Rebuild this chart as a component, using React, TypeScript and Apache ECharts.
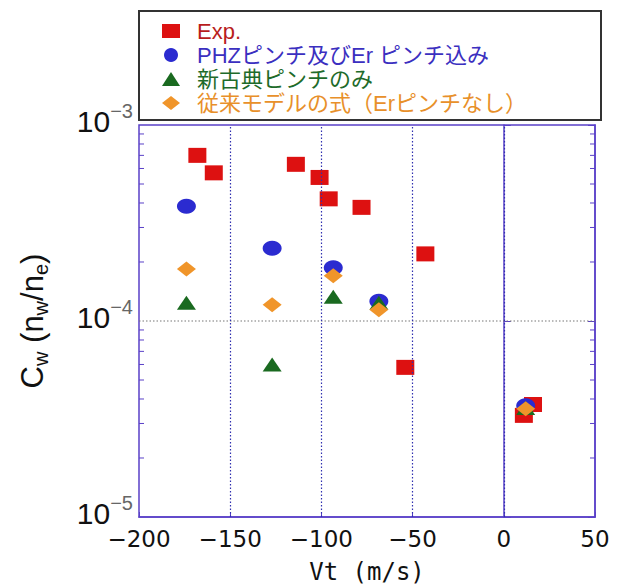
import React, { useEffect, useRef } from 'react';
import * as echarts from 'echarts';

// ---- data ----
const seriesNames = ['Exp.', 'PHZピンチ及びEr ピンチ込み', '新古典ピンチのみ', '従来モデルの式（Erピンチなし）'];

const expVt = [-168, -159, -114, -101, -96, -78, -43, -54, 16, 11];
const expCw = [7.0e-4, 5.7e-4, 6.3e-4, 5.4e-4, 4.2e-4, 3.8e-4, 2.2e-4, 5.8e-5, 3.75e-5, 3.3e-5];

const modelVt = [-174, -127, -93.5, -68.5, 12];
const phzCw = [3.85e-4, 2.35e-4, 1.87e-4, 1.26e-4, 3.7e-5];
const neoCw = [1.24e-4, 6.0e-5, 1.33e-4, 1.24e-4, 3.6e-5];
const convCw = [1.84e-4, 1.21e-4, 1.70e-4, 1.14e-4, 3.57e-5];

const xMin = -200;
const xMax = 50;
const xInterval = 50;
const yMin = 1e-5;
const yMax = 1e-3;
const xGridLines = [-150, -100, -50, 0];
const yGridLines = [1e-4];
const minorTicks = [2e-5, 3e-5, 4e-5, 5e-5, 6e-5, 7e-5, 8e-5, 9e-5, 2e-4, 3e-4, 4e-4, 5e-4, 6e-4, 7e-4, 8e-4, 9e-4];

const xAxisTitle = 'Vt (m/s)';

// ---- styles ----
const frameColor = '#5a40c8';
const colors = ['#dd1111', '#2b2bd0', '#1a6a20', '#f0952a'];
const legendTextColors = ['#b81c1c', '#3b2fc0', '#1e6b2a', '#e8902a'];

function buildOption() {
  const pair = (xs: number[], ys: number[]) => xs.map((x, i) => [x, ys[i]]);
  return {
    animation: false,
    grid: {
      left: 139,
      top: 125,
      right: 33,
      bottom: 69,
      outerBoundsMode: 'none',
      containLabel: false,
      show: true,
      borderColor: frameColor,
      borderWidth: 1.5,
      backgroundColor: 'transparent',
    },
    graphic: [
      {
        type: 'rect',
        z: 0,
        shape: { x: 139, y: 11, width: 462, height: 109 },
        style: { fill: '#fff', stroke: '#333', lineWidth: 2 },
      },
      {
        type: 'text',
        x: 34,
        y: 321,
        rotation: Math.PI / 2,
        style: {
          text: '{c|C}{s|w}{c| (n}{s|w}{c|/n}{s|e}{c|)}',
          align: 'center',
          verticalAlign: 'middle',
          fill: '#111',
          rich: {
            c: { fontSize: 31, fontFamily: 'Liberation Sans', fill: '#111', lineHeight: 34, verticalAlign: 'top' },
            s: { fontSize: 20, fontFamily: 'Liberation Sans', fill: '#111', lineHeight: 20, verticalAlign: 'bottom', padding: [12, 0, 0, 0] },
          },
        },
      },
    ],
    legend: {
      orient: 'vertical',
      left: 162,
      top: 19,
      padding: 0,
      itemWidth: 18,
      itemHeight: 14,
      itemGap: 0,
      textStyle: {
        fontSize: 22,
        lineHeight: 24,
        fontFamily: '"Liberation Sans", "Noto Sans CJK JP", sans-serif',
        padding: [0, 0, 0, 12],
      },
      data: [
        { name: seriesNames[0], icon: 'rect', textStyle: { color: legendTextColors[0] } },
        { name: seriesNames[1], icon: 'circle', textStyle: { color: legendTextColors[1] } },
        { name: seriesNames[2], icon: 'triangle', textStyle: { color: legendTextColors[2] } },
        { name: seriesNames[3], icon: 'diamond', textStyle: { color: legendTextColors[3] } },
      ],
    },
    xAxis: {
      type: 'value',
      min: xMin,
      max: xMax,
      interval: xInterval,
      name: xAxisTitle,
      nameLocation: 'middle',
      nameGap: 43,
      nameTextStyle: { fontSize: 24, fontFamily: 'DejaVu Sans Mono', color: '#111' },
      axisLine: { show: true, lineStyle: { color: frameColor, width: 1.5 } },
      axisTick: { show: true, inside: true, length: 5, lineStyle: { color: frameColor } },
      splitLine: { show: false },
      axisLabel: {
        margin: 10,
        fontSize: 23,
        fontFamily: 'DejaVu Sans',
        color: '#111',
        formatter: (v: number) => (v < 0 ? '\u2212' + Math.abs(v) : String(v)),
      },
    },
    yAxis: [
      {
        type: 'log',
        logBase: 10,
        min: yMin,
        max: yMax,
        axisLine: { show: true, lineStyle: { color: frameColor, width: 1.5 } },
        axisTick: { show: true, inside: true, length: 7, lineStyle: { color: frameColor } },
        splitLine: { show: false },
        axisLabel: {
          margin: 6,
          verticalAlign: 'bottom',
          formatter: (v: number) => {
            const e = Math.round(Math.log10(v));
            return '{a|10}{b|' + (e < 0 ? '\u2212' + Math.abs(e) : String(e)) + '}';
          },
          rich: {
            a: { fontSize: 30, fontFamily: 'Liberation Sans', color: '#111', lineHeight: 18, padding: [10, 0, 0, 0] },
            b: { fontSize: 20, fontFamily: 'Liberation Sans', color: '#666', lineHeight: 17, padding: [0, 0, 11, 0] },
          },
        },
      },
      {
        type: 'log',
        logBase: 10,
        min: yMin,
        max: yMax,
        position: 'right',
        axisLine: { show: true, lineStyle: { color: frameColor, width: 1.5 } },
        axisTick: { show: true, inside: true, length: 7, lineStyle: { color: frameColor } },
        splitLine: { show: false },
        axisLabel: { show: false },
      },
    ],
    series: [
      {
        type: 'custom',
        name: 'gridLines',
        silent: true,
        clip: false,
        data: yGridLines.map((v) => [xMin, v]),
        renderItem: (params: any, api: any) => {
          const v = api.value(1);
          const l = api.coord([xMin, v]);
          const r = api.coord([xMax, v]);
          return {
            type: 'line',
            shape: { x1: l[0], y1: l[1], x2: r[0], y2: r[1] },
            style: { stroke: '#777', lineWidth: 1.2, lineDash: [1.5, 2] },
          };
        },
        markLine: {
          silent: true,
          symbol: 'none',
          label: { show: false },
          data: xGridLines.map((x) => ({ xAxis: x, lineStyle: { color: '#3030b0', type: [1.5, 2], width: 1.2 } })),
        },
      },
      {
        type: 'custom',
        name: 'minorTicks',
        silent: true,
        clip: false,
        data: minorTicks.map((v) => [xMin, v]),
        renderItem: (params: any, api: any) => {
          const v = api.value(1);
          const l = api.coord([xMin, v]);
          const r = api.coord([xMax, v]);
          return {
            type: 'group',
            children: [
              { type: 'line', shape: { x1: l[0], y1: l[1], x2: l[0] + 5, y2: l[1] }, style: { stroke: frameColor, lineWidth: 1 } },
              { type: 'line', shape: { x1: r[0] - 5, y1: r[1], x2: r[0], y2: r[1] }, style: { stroke: frameColor, lineWidth: 1 } },
            ],
          };
        },
      },
      {
        type: 'scatter',
        name: seriesNames[0],
        symbol: 'rect',
        symbolSize: [18, 15],
        itemStyle: { color: colors[0], opacity: 1 },
        data: pair(expVt, expCw),
      },
      {
        type: 'scatter',
        name: seriesNames[1],
        symbol: 'circle',
        symbolSize: [19, 15],
        itemStyle: { color: colors[1], opacity: 1 },
        data: pair(modelVt, phzCw),
      },
      {
        type: 'scatter',
        name: seriesNames[2],
        symbol: 'triangle',
        symbolSize: [19, 14],
        itemStyle: { color: colors[2], opacity: 1 },
        data: pair(modelVt, neoCw),
      },
      {
        type: 'scatter',
        name: seriesNames[3],
        symbol: 'diamond',
        symbolSize: [19, 15],
        itemStyle: { color: colors[3], opacity: 1 },
        data: pair(modelVt, convCw),
      },
    ],
  };
}

export default function App() {
  const ref = useRef<HTMLDivElement>(null);
  useEffect(() => {
    if (!ref.current) return;
    const chart = echarts.init(ref.current, null, { renderer: 'svg' });
    chart.setOption(buildOption() as any);
    return () => chart.dispose();
  }, []);
  return (
    <div
      ref={ref}
      style={{ position: 'absolute', left: 0, top: 0, width: 628, height: 586, background: '#fff' }}
    />
  );
}
